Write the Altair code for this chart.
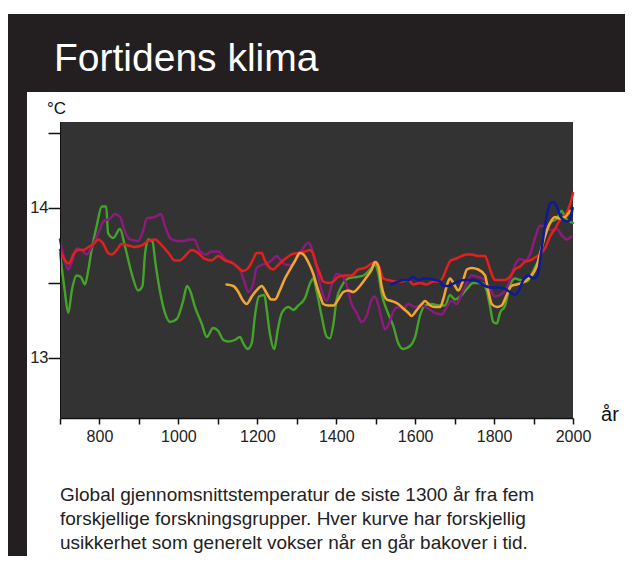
import altair as alt
import pandas as pd

W, H = 513, 296

# ---- data ----
green_year = [700, 712, 721, 730, 742, 753, 763, 772, 780, 793, 806, 817, 822, 835, 852, 865, 882, 898, 909, 915,
              924, 934, 942, 953, 966, 979, 996, 1012, 1022, 1031, 1042, 1059, 1072, 1088, 1101, 1114, 1126, 1143,
              1156, 1164, 1176, 1186, 1194, 1204, 1218, 1224, 1232, 1243, 1252, 1262, 1279, 1291, 1304, 1321, 1334,
              1342, 1350, 1363, 1376, 1384, 1393, 1401, 1414, 1431, 1452, 1469, 1486, 1498, 1507, 1515, 1528, 1545,
              1557, 1570, 1587, 1600, 1612, 1625, 1642, 1659, 1676, 1688, 1701, 1714, 1731, 1747, 1769, 1781, 1790,
              1798, 1807, 1815, 1828, 1840, 1853, 1866, 1883, 1899, 1916, 1929, 1942, 1959, 1971, 1982, 1992, 2000]
green_temp = [13.70, 13.45, 13.30, 13.45, 13.55, 13.54, 13.49, 13.59, 13.72, 13.88, 14.01, 14.01, 13.83, 13.80, 13.86,
              13.74, 13.56, 13.45, 13.48, 13.68, 13.79, 13.78, 13.63, 13.45, 13.30, 13.24, 13.26, 13.38, 13.48, 13.44,
              13.34, 13.23, 13.14, 13.20, 13.18, 13.12, 13.11, 13.12, 13.14, 13.10, 13.06, 13.10, 13.28, 13.41, 13.42,
              13.32, 13.16, 13.06, 13.19, 13.30, 13.34, 13.32, 13.35, 13.40, 13.50, 13.53, 13.45, 13.28, 13.14, 13.13,
              13.23, 13.39, 13.48, 13.53, 13.54, 13.55, 13.59, 13.62, 13.56, 13.43, 13.32, 13.21, 13.10, 13.06, 13.08,
              13.14, 13.28, 13.35, 13.36, 13.35, 13.35, 13.42, 13.39, 13.41, 13.46, 13.50, 13.50, 13.45, 13.34, 13.24,
              13.23, 13.30, 13.35, 13.48, 13.53, 13.52, 13.51, 13.58, 13.68, 13.83, 13.90, 13.93, 13.98, 13.93, 13.91,
              13.90]

purple_year = [700, 713, 721, 730, 742, 755, 768, 780, 797, 810, 827, 839, 852, 865, 877, 898, 911, 920, 941, 956,
               966, 979, 996, 1012, 1029, 1040, 1055, 1072, 1084, 1101, 1118, 1139, 1156, 1167, 1177, 1190, 1198, 1211,
               1224, 1236, 1249, 1262, 1274, 1287, 1304, 1321, 1329, 1338, 1350, 1363, 1376, 1388, 1401, 1414, 1426,
               1439, 1452, 1464, 1477, 1490, 1498, 1507, 1515, 1524, 1532, 1545, 1557, 1570, 1583, 1600, 1617, 1633,
               1650, 1667, 1680, 1692, 1705, 1718, 1731, 1743, 1760, 1777, 1790, 1802, 1815, 1828, 1840, 1853, 1866,
               1878, 1891, 1904, 1916, 1929, 1946, 1959, 1971, 1984, 1996]
purple_temp = [13.79, 13.64, 13.59, 13.64, 13.73, 13.72, 13.69, 13.74, 13.83, 13.91, 13.93, 13.96, 13.94, 13.84, 13.79,
               13.78, 13.85, 13.93, 13.94, 13.96, 13.88, 13.80, 13.78, 13.78, 13.79, 13.79, 13.71, 13.69, 13.71, 13.71,
               13.66, 13.63, 13.59, 13.51, 13.44, 13.50, 13.60, 13.62, 13.63, 13.65, 13.68, 13.64, 13.62, 13.62, 13.68,
               13.75, 13.77, 13.73, 13.60, 13.45, 13.38, 13.48, 13.56, 13.55, 13.49, 13.36, 13.30, 13.24, 13.28, 13.39,
               13.41, 13.35, 13.26, 13.19, 13.22, 13.31, 13.34, 13.33, 13.36, 13.34, 13.35, 13.33, 13.30, 13.29, 13.34,
               13.38, 13.36, 13.43, 13.50, 13.55, 13.54, 13.52, 13.46, 13.41, 13.42, 13.45, 13.52, 13.62, 13.66, 13.65,
               13.69, 13.80, 13.88, 13.88, 13.85, 13.86, 13.82, 13.79, 13.81]

red_year = [700, 713, 723, 734, 746, 759, 772, 785, 797, 810, 822, 831, 844, 856, 873, 890, 907, 924, 941, 958, 975,
            991, 1004, 1017, 1034, 1050, 1067, 1084, 1101, 1118, 1139, 1152, 1164, 1177, 1190, 1198, 1211, 1219, 1232,
            1240, 1253, 1270, 1287, 1304, 1321, 1334, 1342, 1350, 1359, 1367, 1380, 1393, 1405, 1422, 1439, 1456,
            1473, 1490, 1502, 1511, 1519, 1532, 1549, 1566, 1583, 1595, 1612, 1629, 1646, 1659, 1671, 1680, 1690,
            1701, 1718, 1731, 1743, 1760, 1777, 1785, 1794, 1802, 1815, 1828, 1840, 1853, 1866, 1878, 1891, 1904,
            1916, 1929, 1942, 1954, 1967, 1980, 1992, 2000]
red_temp = [13.72, 13.65, 13.63, 13.69, 13.72, 13.72, 13.74, 13.76, 13.79, 13.76, 13.70, 13.69, 13.72, 13.76, 13.75,
            13.74, 13.75, 13.78, 13.79, 13.75, 13.70, 13.65, 13.65, 13.68, 13.72, 13.70, 13.66, 13.65, 13.68, 13.65,
            13.63, 13.60, 13.58, 13.60, 13.66, 13.70, 13.70, 13.65, 13.60, 13.59, 13.62, 13.66, 13.69, 13.70, 13.71,
            13.72, 13.69, 13.62, 13.56, 13.51, 13.50, 13.51, 13.54, 13.55, 13.55, 13.59, 13.60, 13.63, 13.64, 13.59,
            13.53, 13.52, 13.51, 13.51, 13.52, 13.49, 13.50, 13.49, 13.51, 13.51, 13.54, 13.60, 13.65, 13.66, 13.68,
            13.69, 13.69, 13.68, 13.68, 13.63, 13.56, 13.52, 13.52, 13.52, 13.54, 13.59, 13.61, 13.64, 13.65, 13.67,
            13.69, 13.73, 13.81, 13.86, 13.92, 13.95, 14.02, 14.10]

orange_year = [1122, 1139, 1152, 1162, 1173, 1186, 1198, 1211, 1224, 1235, 1245, 1257, 1270, 1283, 1296, 1308, 1317,
               1329, 1342, 1352, 1361, 1367, 1380, 1393, 1405, 1418, 1431, 1443, 1460, 1477, 1490, 1498, 1507, 1515,
               1528, 1540, 1557, 1570, 1583, 1591, 1604, 1617, 1625, 1638, 1650, 1663, 1671, 1680, 1688, 1701, 1709,
               1722, 1731, 1743, 1760, 1777, 1785, 1794, 1807, 1819, 1832, 1844, 1857, 1870, 1883, 1895, 1908, 1916,
               1929, 1942, 1954, 1967, 1980, 1992]
orange_temp = [13.49, 13.48, 13.44, 13.39, 13.36, 13.41, 13.45, 13.48, 13.43, 13.39, 13.39, 13.45, 13.53, 13.59, 13.65,
               13.70, 13.69, 13.64, 13.56, 13.47, 13.40, 13.36, 13.35, 13.35, 13.39, 13.44, 13.45, 13.44, 13.48, 13.54,
               13.59, 13.64, 13.61, 13.48, 13.39, 13.38, 13.36, 13.33, 13.30, 13.28, 13.32, 13.36, 13.38, 13.35, 13.34,
               13.34, 13.39, 13.48, 13.53, 13.48, 13.45, 13.52, 13.59, 13.60, 13.59, 13.55, 13.45, 13.36, 13.34, 13.35,
               13.42, 13.48, 13.49, 13.50, 13.52, 13.55, 13.61, 13.69, 13.81, 13.90, 13.94, 13.93, 13.94, 13.98]

blue_year = [1540, 1557, 1570, 1583, 1595, 1608, 1621, 1633, 1650, 1663, 1671, 1684, 1693, 1709, 1726, 1743, 1760,
             1777, 1794, 1811, 1828, 1840, 1853, 1863, 1874, 1887, 1899, 1910, 1918, 1926, 1933, 1942, 1950, 1959,
             1967, 1976, 1984, 1992, 1999]
blue_temp = [13.49, 13.51, 13.52, 13.52, 13.54, 13.52, 13.53, 13.53, 13.52, 13.51, 13.48, 13.48, 13.49, 13.51, 13.52,
             13.52, 13.51, 13.48, 13.47, 13.47, 13.46, 13.44, 13.42, 13.45, 13.52, 13.55, 13.53, 13.55, 13.68, 13.83,
             13.94, 14.03, 14.04, 14.01, 13.95, 13.92, 13.91, 13.92, 14.00]

x_ticks = list(range(700, 2001, 100))
y_ticks = [13, 13.5, 14, 14.5]

title_text = "Fortidens klima"
caption_lines = [
    "Global gjennomsnittstemperatur de siste 1300 år fra fem",
    "forskjellige forskningsgrupper. Hver kurve har forskjellig",
    "usikkerhet som generelt vokser når en går bakover i tid.",
]

series_names = ["green", "purple", "red", "orange", "blue"]
series_colors = ["#45a32a", "#8c1b7d", "#e4201f", "#f2a531", "#0c1a9c"]
series_widths = [2.4, 2.6, 2.8, 2.4, 2.4]
series_years = [green_year, purple_year, red_year, orange_year, blue_year]
series_temps = [green_temp, purple_temp, red_temp, orange_temp, blue_temp]

rows = []
for i, (nm, yrs, tmp) in enumerate(zip(series_names, series_years, series_temps)):
    for yv, tv in zip(yrs, tmp):
        rows.append({"serie": nm, "rank": i, "year": yv, "temp": tv})
df = pd.DataFrame(rows)

FONT = "Liberation Sans"
one = pd.DataFrame({"k": [0]})

x_enc = alt.X("year:Q", scale=alt.Scale(domain=[700, 2000], nice=False, zero=False),
              axis=alt.Axis(values=x_ticks, format="d",
                            labelExpr="datum.value % 200 == 0 ? datum.label : ''",
                            title=None, grid=False, domain=True, domainColor="#111111", domainWidth=1.5,
                            ticks=True, tickColor="#111111", tickWidth=1.5, tickSize=6,
                            labelOverlap=False, labelFlush=False,
                            labelFont=FONT, labelFontSize=16, labelColor="#222222", labelPadding=4,
                            zindex=2))
y_enc = alt.Y("temp:Q", scale=alt.Scale(domain=[12.6, 14.573], nice=False, zero=False),
              axis=alt.Axis(values=y_ticks,
                            labelExpr="datum.value % 1 == 0 ? format(datum.value, 'd') : ''",
                            title=None, grid=False, domain=True, domainColor="#111111", domainWidth=1.0,
                            ticks=True, tickColor="#111111", tickWidth=1.5, tickSize=12,
                            labelOverlap=False, labelFlush=False,
                            labelFont=FONT, labelFontSize=16.5, labelColor="#222222", labelPadding=0,
                            zindex=2))

# decorative backgrounds (slide, white panel, plot area)
slide_bg = alt.Chart(one).mark_rect(color="#231f20").encode(
    x=alt.value(-52), x2=alt.value(W + 60), y=alt.value(-108), y2=alt.value(H + 160))
panel_bg = alt.Chart(one).mark_rect(color="#ffffff").encode(
    x=alt.value(-33), x2=alt.value(W + 52), y=alt.value(-30), y2=alt.value(H + 160))
plot_bg = alt.Chart(one).mark_rect(color="#333333").encode(
    x=alt.value(0), x2=alt.value(W), y=alt.value(0), y2=alt.value(H))

lines = alt.Chart(df).mark_line(interpolate="monotone", strokeCap="round", strokeJoin="round").encode(
    x=x_enc, y=y_enc,
    color=alt.Color("serie:N", scale=alt.Scale(domain=series_names, range=series_colors), legend=None),
    strokeWidth=alt.StrokeWidth("serie:N", scale=alt.Scale(domain=series_names, range=series_widths),
                                legend=None),
    order=alt.Order("rank:Q"),
)

title_mark = alt.Chart(one).mark_text(text=title_text, font=FONT, fontSize=39, color="#ffffff",
                                      align="left", baseline="alphabetic").encode(
    x=alt.value(-6), y=alt.value(-51))
unit_mark = alt.Chart(one).mark_text(text="°C", font=FONT, fontSize=17, color="#111111",
                                     align="left", baseline="middle").encode(
    x=alt.value(-13), y=alt.value(-13))
year_mark = alt.Chart(one).mark_text(text="år", font=FONT, fontSize=20, color="#111111",
                                     align="center", baseline="middle").encode(
    x=alt.value(W + 37), y=alt.value(H - 3))
caption_mark = alt.Chart(one).mark_text(text=caption_lines, font=FONT, fontSize=19, color="#222222",
                                        align="left", baseline="middle", lineHeight=24).encode(
    x=alt.value(0), y=alt.value(H + 77))

chart = alt.layer(slide_bg, panel_bg, plot_bg, lines, title_mark, unit_mark, year_mark, caption_mark).properties(
    width=W, height=H, autosize="none",
    padding={"left": 52, "top": 114, "right": 52, "bottom": 138},
    background="#ffffff",
).configure_view(stroke=None)

chart.save("out.html", embed_options={"renderer": "svg", "actions": False})
